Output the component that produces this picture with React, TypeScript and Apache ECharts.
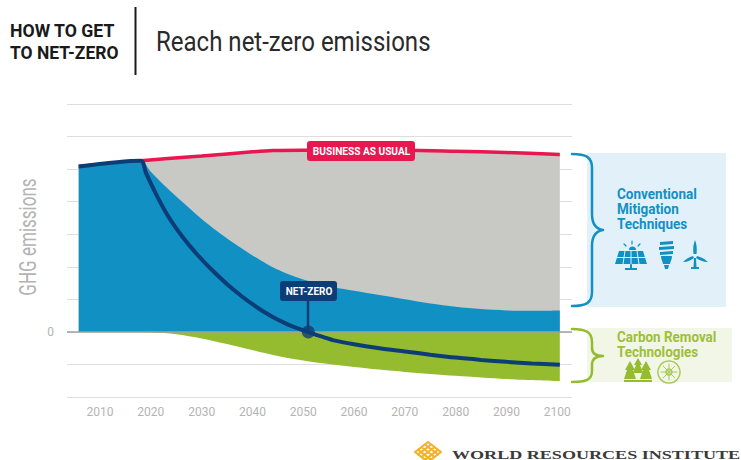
import React, { useEffect, useRef } from "react";
import * as echarts from "echarts";

const xTickLabels = [2010, 2020, 2030, 2040, 2050, 2060, 2070, 2080, 2090, 2100];
const businessAsUsual = [[2005.8, 5.08], [2018, 5.26], [2030, 5.4], [2040, 5.53], [2044, 5.57], [2050, 5.58], [2060, 5.58], [2070, 5.58], [2080, 5.55], [2090, 5.51], [2100.5, 5.45]];
const mitigationEdge = [[2005.8, 5.08], [2018, 5.26], [2020, 4.92], [2023, 4.45], [2026, 4.02], [2030, 3.47], [2033, 3.1], [2036, 2.76], [2040, 2.35], [2043, 2.07], [2046, 1.84], [2049, 1.66], [2052, 1.52], [2056, 1.37], [2060, 1.26], [2065, 1.13], [2070, 1.0], [2075, 0.87], [2080, 0.77], [2085, 0.7], [2090, 0.66], [2095, 0.65], [2100.5, 0.66]];
const netZero = [[2005.8, 5.08], [2018, 5.26], [2019, 4.9], [2020, 4.56], [2021, 4.24], [2022, 3.94], [2023, 3.66], [2024, 3.41], [2025, 3.18], [2026, 2.97], [2027, 2.77], [2028, 2.58], [2029, 2.4], [2030, 2.23], [2032, 1.91], [2034, 1.61], [2036, 1.33], [2038, 1.08], [2040, 0.85], [2042, 0.64], [2044, 0.46], [2046, 0.3], [2048, 0.16], [2050, 0.05], [2051, 0], [2052, -0.06], [2054, -0.16], [2056, -0.26], [2060, -0.38], [2065, -0.5], [2070, -0.6], [2075, -0.7], [2080, -0.79], [2085, -0.86], [2090, -0.92], [2095, -0.97], [2100.5, -1.01]];
const removalEdge = [[2018, 0], [2020, -0.01], [2025, -0.07], [2030, -0.2], [2035, -0.37], [2040, -0.56], [2045, -0.74], [2050, -0.88], [2055, -0.99], [2060, -1.08], [2070, -1.23], [2080, -1.35], [2090, -1.45], [2100.5, -1.51]];
const netZeroPoint = [[2051, 0]];

const FONT = "Roboto, sans-serif";
const BLUE = "#1190c4";
const NAVY = "#0c3d77";
const RED = "#e8174f";
const GREEN = "#94bc2e";
const LABEL = "#b4b4b4";

const shapes: Record<string, string> = {
  braceBlue: "M572 154 C586 154 592 157 592 168 L592 214 C592 224 596 229 603 230 C596 231 592 236 592 246 L592 292 C592 303 586 306 572 306",
  braceGreen: "M572 329 C586 329 592 332 592 342 L592 348 C592 353 596 356 603 356 C596 356 592 359 592 365 L592 371 C592 380 586 382 572 382",
  solar: "M619 251 L643 251 L647 264 L615 264 Z M630 264 L632 264 L632 268 L637 268 L637 270 L625 270 L625 268 L630 268 Z M629 250 A3.5 3.5 0 0 1 636 250 Z",
  solarGrid: "M625 251 L623 264 M631 251 L631 264 M637 251 L639 264 M617 257.5 L645 257.5",
  solarRays: "M632 241 L632 244 M624 244 L626 246 M640 244 L638 246",
  bulb: "M660 242 L673 241 L673 244 L660 245 Z M659 247 L674 246 L674 249 L659 250 Z M660 252 L673 251 L673 254 L660 255 Z M661 256 L672 256 C672 260 670 262 670 264 L663 264 C663 262 661 260 661 256 Z M664 265 L669 265 L668 269 L665 269 Z",
  turbine: "M695 240 C697 245 697 250 696.5 254 L693.5 254 C693 250 693 245 695 240 Z M697 256 C701 257 705 259 708 262 C703 262 699 260 696 258 Z M693 256 C689 257 686 259 683 262 C688 262 691 260 694 258 Z M694 258 L696 258 L696.5 267 L699 267 L699 269 L691 269 L691 267 L693.5 267 Z",
  trees: "M624 382 L652 382 L652 380 L624 380 Z M630 361 L635 370 L633 370 L636 379 L624 379 L627 370 L625 370 Z M638 358 L642 365 L640 365 L643 373 L633 373 L636 365 L634 365 Z M646 361 L651 370 L649 370 L652 379 L640 379 L643 370 L641 370 Z",
  wheelRim: "M669 361 A11 11 0 1 1 668.9 361 Z M669 369 A3 3 0 1 1 668.9 369 Z",
  wheelSpokes: "M669 364 L669 380 M661 372 L677 372 M663.3 366.3 L674.7 377.7 M674.7 366.3 L663.3 377.7",
  logo: "M415 452 L428 442 L441 452 L428 462 Z M421.5 447 L434.5 457 M434.5 447 L421.5 457 M418 449.7 L431 460 M438 449.7 L425 460 M425 444.5 L438 454.5 M431 444.5 L418 454.5",
};
Object.entries(shapes).forEach(([name, d]) => {
  echarts.graphic.registerShape(name, echarts.graphic.extendPath(d as any, {} as any) as any);
});

const stroke = (type: string, color: string, lineWidth: number, z = 10) => ({
  type, z, silent: true, style: { fill: "none", stroke: color, lineWidth, lineCap: "round", lineJoin: "round" },
});
const solid = (type: string, color: string, z = 10) => ({ type, z, silent: true, style: { fill: color } });
const text = (x: number, y: number, t: string, fontSize: number, fill: string, scaleX = 1, fontWeight: any = "bold", textAlign = "left", fontFamily = FONT, rotation = 0) => ({
  type: "text", x, y, z: 20, silent: true, scaleX, rotation,
  style: { text: t, fontSize, fill, fontWeight, fontFamily, textAlign, textVerticalAlign: "middle" },
});
const pill = (x: number, y: number, w: number, h: number, fill: string) => ({
  type: "rect", z: 15, silent: true, shape: { x, y, width: w, height: h, r: 3 }, style: { fill },
});
const areaLine = (name: string, data: number[][], z: number, color: string, extra: any = {}) => ({
  name, type: "line", z, data, showSymbol: false, smooth: 0.3,
  lineStyle: { width: 0 }, areaStyle: { color, opacity: 1 }, ...extra,
});

export default function App() {
  const ref = useRef<HTMLDivElement>(null);
  useEffect(() => {
    document.body.style.margin = "0";
    const chart = echarts.init(ref.current!, undefined, { renderer: "svg" });
    chart.setOption({
      animation: false,
      backgroundColor: "#ffffff",
      grid: { left: 67, right: 169, top: 104, bottom: 63 },
      xAxis: {
        type: "value", min: 2003.5, max: 2102.9,
        axisLine: { show: false }, axisTick: { show: false }, splitLine: { show: false },
        axisLabel: { customValues: xTickLabels, color: LABEL, fontSize: 12, fontFamily: FONT, margin: 9, formatter: (v: number) => String(v) },
      },
      yAxis: {
        type: "value", min: -2, max: 7, interval: 1,
        axisLine: { show: false }, axisTick: { show: false },
        splitLine: { lineStyle: { color: "#dedede", width: 1.2 } },
        axisLabel: { color: LABEL, fontSize: 12, fontFamily: FONT, margin: 13, formatter: (v: number) => (v === 0 ? "0" : "") },
      },
      series: [
        areaLine("Business as usual", businessAsUsual, 1, "#c8c8c5", { lineStyle: { color: RED, width: 3.5 } }),
        areaLine("Conventional mitigation", mitigationEdge, 2, BLUE),
        areaLine("Carbon removal", removalEdge, 2, GREEN, {
          markLine: { silent: true, symbol: "none", z: 3, label: { show: false }, lineStyle: { color: "#a0a0a0", width: 1.5, type: "solid" }, data: [{ yAxis: 0 }] },
        }),
        { name: "Net-zero", type: "line", z: 6, data: netZero, showSymbol: false, smooth: 0.3, lineStyle: { color: NAVY, width: 4 } },
        { name: "Net-zero point", type: "scatter", z: 7, data: netZeroPoint, symbolSize: 13, itemStyle: { color: NAVY } },
      ],
      graphic: [
        { type: "line", z: 10, silent: true, shape: { x1: 135.5, y1: 7, x2: 135.5, y2: 75 }, style: { stroke: "#1a1a1a", lineWidth: 2 } },
        text(10, 30, "HOW TO GET", 19, "#1a1a1a", 0.93),
        text(10, 52, "TO NET-ZERO", 19, "#1a1a1a", 0.92),
        text(156, 41, "Reach net-zero emissions", 27, "#2a2a2a", 0.89, "normal"),
        text(28, 237, "GHG emissions", 24, LABEL, 0.71, "normal", "center", FONT, Math.PI / 2),
        pill(307, 141, 108, 20, RED),
        text(361.5, 151, "BUSINESS AS USUAL", 11.5, "#ffffff", 0.88, "bold", "center"),
        pill(280, 281, 57, 20, NAVY),
        { type: "line", z: 14, silent: true, shape: { x1: 308, y1: 300, x2: 308, y2: 331 }, style: { stroke: NAVY, lineWidth: 2.5 } },
        text(309, 291, "NET-ZERO", 11.5, "#ffffff", 0.87, "bold", "center"),
        { type: "rect", z: 5, silent: true, shape: { x: 587, y: 153, width: 139, height: 154 }, style: { fill: "#e2f1f9" } },
        { type: "rect", z: 5, silent: true, shape: { x: 587, y: 328, width: 145, height: 54 }, style: { fill: "#f2f6e6" } },
        stroke("braceBlue", BLUE, 2.5),
        stroke("braceGreen", GREEN, 2.5),
        text(617, 194, "Conventional", 14, BLUE, 0.965),
        text(617, 209, "Mitigation", 14, BLUE, 0.965),
        text(617, 224, "Techniques", 14, BLUE, 0.965),
        text(617, 337, "Carbon Removal", 14, "#9dbf3a", 0.96),
        text(617, 352, "Technologies", 14, "#9dbf3a", 0.96),
        solid("solar", BLUE),
        stroke("solarGrid", "#e2f1f9", 1, 11),
        stroke("solarRays", BLUE, 1.2),
        solid("bulb", BLUE),
        solid("turbine", BLUE),
        solid("trees", GREEN),
        stroke("wheelRim", "#a9c95a", 1.5),
        stroke("wheelSpokes", "#a9c95a", 1),
        stroke("logo", "#f3b229", 2.2),
        text(452, 454, "WORLD RESOURCES INSTITUTE", 13, "#3a3a3a", 1.39, "bold", "left", "'Liberation Serif', serif"),
      ],
    });
    return () => chart.dispose();
  }, []);
  return <div ref={ref} style={{ width: 741, height: 460 }} />;
}
